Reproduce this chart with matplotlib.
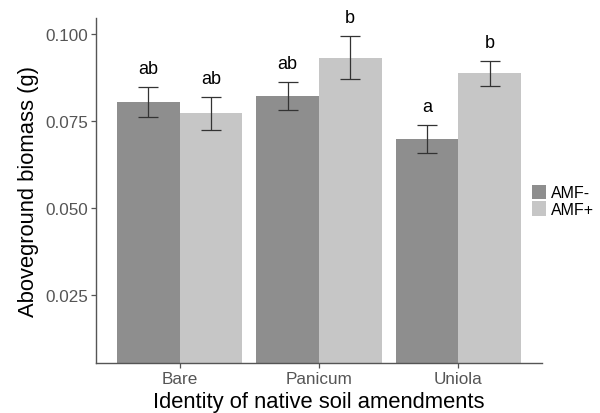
import numpy as np
import matplotlib.pyplot as plt

plt.rcParams['font.family'] = ['Liberation Sans', 'DejaVu Sans']

# data
categorias = ['Bare', 'Panicum', 'Uniola']
grupos = ['AMF-', 'AMF+']
media_menos = [0.0803, 0.0820, 0.0697]
media_mais = [0.0771, 0.0931, 0.0886]
erro_menos = [0.0043, 0.0040, 0.0040]
erro_mais = [0.0047, 0.0062, 0.0036]
letras_menos = ['ab', 'ab', 'a']
letras_mais = ['ab', 'b', 'b']

cores = ['#8e8e8e', '#c6c6c6']

fig = plt.figure(figsize=(6, 4.14), dpi=100)
ax = fig.add_axes([0.16, 0.121, 0.743, 0.833])

x = np.arange(1, len(categorias) + 1)
larg = 0.45

series = [(media_menos, erro_menos, letras_menos),
          (media_mais, erro_mais, letras_mais)]
for i, (med, err, let) in enumerate(series):
    pos = x + (i - 0.5) * larg
    ax.bar(pos, med, width=larg, color=cores[i], label=grupos[i], zorder=1)
    ax.errorbar(pos, med, yerr=err, fmt='none', ecolor='#333333',
                elinewidth=0.9, capsize=7, capthick=0.9, zorder=2)
    for px, m, e, t in zip(pos, med, err, let):
        ax.text(px, m + e + 0.0054, t, ha='center', va='center',
                fontsize=13, color='black')

ax.set_xlim(0.4, 3.6)
ax.set_ylim(0.0055, 0.1045)
ax.set_yticks([0.025, 0.050, 0.075, 0.100])
ax.set_yticklabels(['0.025', '0.050', '0.075', '0.100'])
ax.set_xticks(x)
ax.set_xticklabels(categorias)

for lado in ['top', 'right']:
    ax.spines[lado].set_visible(False)
for lado in ['left', 'bottom']:
    ax.spines[lado].set_color('#555555')
    ax.spines[lado].set_linewidth(1.0)
ax.tick_params(axis='both', colors='#555555', labelcolor='#555555',
               labelsize=12.3, length=3.5, width=0.9, pad=2)

ax.set_xlabel('Identity of native soil amendments', fontsize=15.8, labelpad=4)
ax.set_ylabel('Aboveground biomass (g)', fontsize=15.8, labelpad=5)

leg = ax.legend(loc='center left', bbox_to_anchor=(0.978, 0.47), frameon=False,
                fontsize=11.5, handlelength=0.85, handleheight=1.0,
                handletextpad=0.35, labelspacing=0.08, borderaxespad=0,
                borderpad=0)

fig.savefig('out.png', dpi=100)
